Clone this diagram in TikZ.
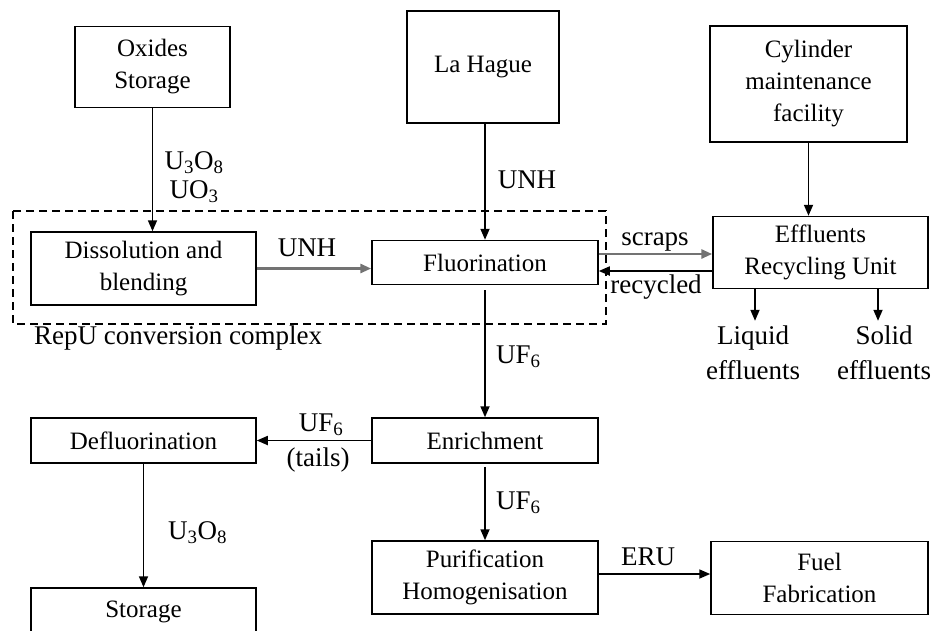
\documentclass[tikz,border=0pt]{standalone}
\usepackage{fontspec}
\setmainfont{Liberation Serif}
\usetikzlibrary{arrows.meta}
\newcommand\boxfont{\fontsize{25}{32}\selectfont}
\newcommand\lblfont{\fontsize{27}{35}\selectfont}
\begin{document}
\begin{tikzpicture}[x=1pt,y=-1pt,
  procbox/.style={draw, line width=1.5pt, inner sep=0pt, align=center, font=\boxfont},
  lbl/.style={inner sep=0pt, align=center, font=\lblfont},
  flow/.style={-{Triangle[length=11pt,width=9pt]}, line width=1.7pt},
  grayflow/.style={flow, draw=black!55, line width=2.8pt},
  complexbox/.style={draw, dashed, line width=1.3pt, dash pattern=on 8pt off 5pt}]
\useasboundingbox (0,0) rectangle (933,630);
\clip (0,0) rectangle (933,630);

% process units
\node[procbox, minimum width=155pt, minimum height=81pt]  (oxides)  at (152.5,67)  {Oxides\\Storage};
\node[procbox, minimum width=152pt, minimum height=112pt] (lahague) at (483,67)    {La Hague};
\node[procbox, minimum width=197pt, minimum height=116pt] (cyl)     at (808.5,84)  {Cylinder\\maintenance\\facility};
\node[procbox, minimum width=225pt, minimum height=73pt]  (diss)    at (143.5,268.5) {Dissolution and\\blending};
\node[procbox, minimum width=226pt, minimum height=44pt]  (fluor)   at (485,262.5) {Fluorination};
\node[procbox, minimum width=215pt, minimum height=72pt]  (eff)     at (820.5,252.5) {Effluents\\Recycling Unit};
\node[procbox, minimum width=225pt, minimum height=45pt]  (defl)    at (143.5,440.5) {Defluorination};
\node[procbox, minimum width=226pt, minimum height=45pt]  (enr)     at (485,440.5) {Enrichment};
\node[procbox, minimum width=226pt, minimum height=73pt]  (puri)    at (485,577.5) {Purification\\Homogenisation};
\node[procbox, minimum width=217pt, minimum height=73pt]  (fuel)    at (819.5,578) {Fuel\\Fabrication};
\node[procbox, minimum width=225pt, minimum height=48pt]  (storage) at (143.5,612) {Storage};

% conversion complex boundary
\draw[complexbox] (13,211) rectangle (606,324);
\node[lbl, anchor=west] (complexlbl) at (34,338) {RepU conversion complex};

% effluent outlets
\node[lbl] (liquid) at (753,353) {Liquid\\effluents};
\node[lbl] (solid)  at (884,353) {Solid\\effluents};

% flows
\draw[flow] (oxides.south) -- (oxides.south |- diss.north);
\draw[flow] (fluor.north |- lahague.south) -- (fluor.north);
\draw[flow] (cyl.south) -- (cyl.south |- eff.north);
\draw[grayflow] (diss.east) -- (diss.east -| fluor.west);
\draw[grayflow] ([yshift=8.5pt]fluor.east) -- ([yshift=8.5pt]fluor.east -| eff.west);
\draw[flow] ([yshift=-8.5pt]fluor.east -| eff.west) -- ([yshift=-8.5pt]fluor.east);
\draw[flow] ([xshift=2pt]liquid.north |- eff.south) -- ([xshift=2pt,yshift=5pt]liquid.north);
\draw[flow] ([xshift=-6pt]solid.north |- eff.south) -- ([xshift=-6pt,yshift=5pt]solid.north);
\draw[flow, shorten <=5pt] (fluor.south) -- (enr.north);
\draw[flow] (enr.west) -- (defl.east);
\draw[flow, shorten <=3pt] (enr.south) -- (puri.north);
\draw[flow] (defl.south) -- (defl.south |- storage.north);
\draw[flow] ([yshift=3.5pt]puri.east) -- ([yshift=3.5pt]puri.east -| fuel.west);

% stream labels
\node[lbl, font=\fontsize{27}{29}\selectfont] (oxlbl) at (194,177) {U\textsubscript{3}O\textsubscript{8}\\UO\textsubscript{3}};
\node[lbl] (unhtop)  at (527,180) {UNH};
\node[lbl] (unhmid)  at (307,248) {UNH};
\node[lbl] (scraps)  at (655,242) {scraps};
\node[lbl] (recyc)   at (656,287) {recycled};
\node[lbl, anchor=west] (uf6a) at (496,357) {UF\textsubscript{6}};
\node[lbl, anchor=west] (uf6b) at (496,503) {UF\textsubscript{6}};
\node[lbl] (uf6t)    at (321,425) {UF\textsubscript{6}};
\node[lbl] (tails)   at (318,460) {(tails)};
\node[lbl, anchor=west] (u3o8) at (168,533) {U\textsubscript{3}O\textsubscript{8}};
\node[lbl] (eru)     at (648,557) {ERU};
\end{tikzpicture}
\end{document}
